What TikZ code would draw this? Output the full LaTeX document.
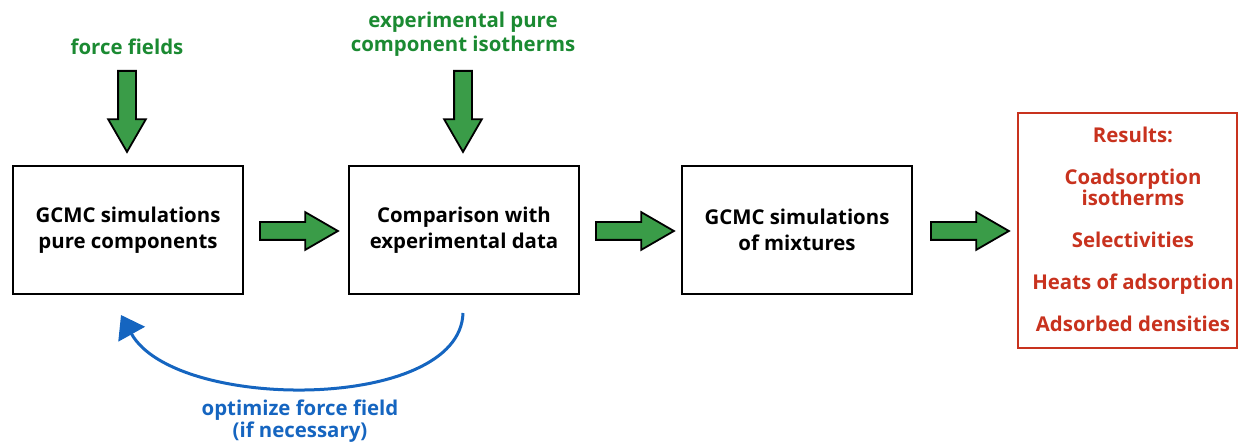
\documentclass[tikz,border=0pt]{standalone}
\usepackage{fontspec}
\setmainfont{Open Sans}
\usepackage{tikz}
\usetikzlibrary{shapes.arrows, arrows.meta}

\definecolor{ffgreen}{RGB}{27,138,50}
\definecolor{arrowgreen}{RGB}{58,156,72}
\definecolor{resred}{RGB}{200,50,30}
\definecolor{loopblue}{RGB}{21,101,192}

\tikzset{
  simbox/.style={draw, line width=1.3pt, fill=white, minimum width=115pt,
    minimum height=64pt, align=center, font=\bfseries\fontsize{10.2}{13}\selectfont},
  blockarrow/.style={single arrow, draw, line width=0.9pt, fill=arrowgreen,
    inner sep=4pt, minimum width=18pt, single arrow head extend=5pt,
    single arrow tip angle=60, minimum height=39pt, anchor=tail},
  greenlabel/.style={text=ffgreen, align=center, font=\bfseries\fontsize{10.2}{12}\selectfont},
}

\begin{document}
\begin{tikzpicture}[x=0.5pt, y=-0.5pt]
      \useasboundingbox (0,0) rectangle (1239,443);

      % 1. the three simulation steps
      \node[simbox] (gcmcpure) at (128,230) {GCMC simulations\\pure components};
      \node[simbox] (compare)  at (464,230) {Comparison with\\experimental data};
      \node[simbox] (gcmcmix)  at (797,230) {GCMC simulations\\of mixtures};

      % 2. results on the right, in a red frame
      \draw[resred, line width=1.2pt] (1018,113) rectangle (1237,348);
      \node[text=resred, align=center, font=\bfseries\fontsize{10.2}{10.5}\selectfont]
            (results) at (1133,229)
            {Results:\\[10.5pt]Coadsorption\\isotherms\\[10.5pt]Selectivities\\[10.5pt]
             Heats of adsorption\\[10.5pt]Adsorbed densities};

      % 3. inputs from above
      \node[greenlabel] (ff) at (127,47) {force fields};
      \node[greenlabel] (expiso) at (463,34) {experimental pure\\component isotherms};
      \node[blockarrow, shape border rotate=270, minimum height=40.5pt] (ffarrow) at (127,70) {};
      \node[blockarrow, shape border rotate=270, minimum height=40.5pt] (isoarrow) at (463,70) {};

      % 4. arrows between the steps
      \node[blockarrow] (step1) at (259,231) {};
      \node[blockarrow] (step2) at (595,231) {};
      \node[blockarrow] (step3) at (930,231) {};

      % 5. feedback loop back to the first step
      \coordinate (loopstart) at (463,313);
      \coordinate (loopend) at (121,315);
      \draw[loopblue, line width=1.5pt, -{Triangle[width=15pt,length=11pt]}]
        (loopstart) .. controls (460,412) and (175,412) .. (loopend);
      \node[text=loopblue, align=center, font=\bfseries\fontsize{10.2}{11}\selectfont]
        (optff) at (300,421) {optimize force field\\(if necessary)};
\end{tikzpicture}
\end{document}
